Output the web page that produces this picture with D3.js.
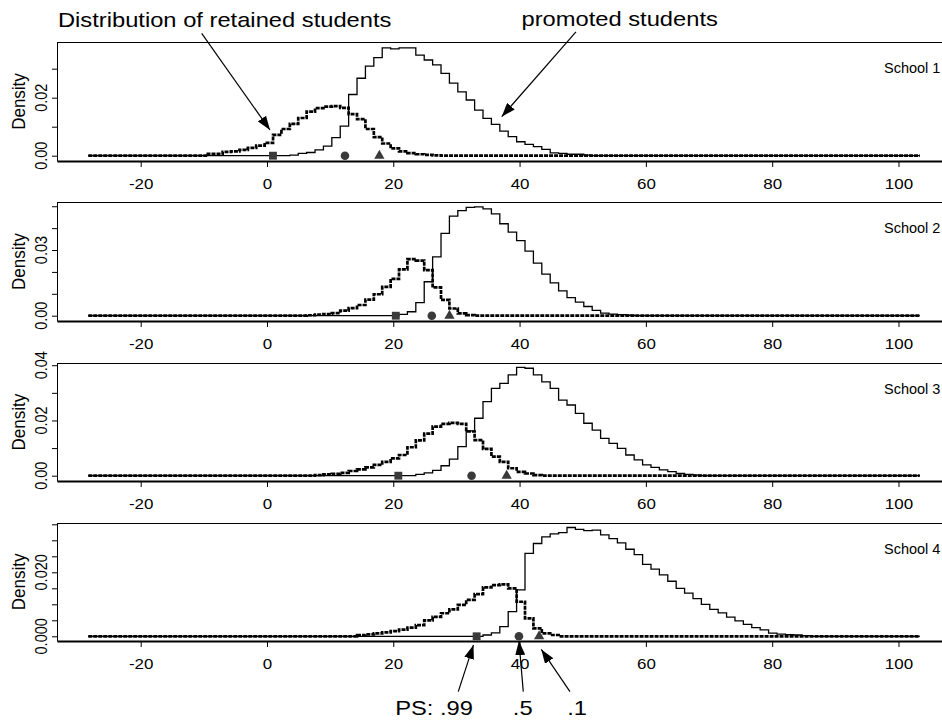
<!DOCTYPE html>
<html>
<head>
<meta charset="utf-8">
<script src="https://cdn.jsdelivr.net/npm/d3@7"></script>
<style>
  body { margin: 0; background: #fff; }
  svg { display: block; font-family: "Liberation Sans", Arial, Helvetica, sans-serif; }
</style>
</head>
<body>
<svg id="chart" width="942" height="724"></svg>
<script>
'use strict';

// score grid shared by every panel (stairstep points)
const gridStart = -28.3, gridStep = 1.33, gridCount = 100;

const schools = ['School 1', 'School 2', 'School 3', 'School 4'];
const xTicks = [-20, 0, 20, 40, 60, 80, 100];

// grid index where each non-zero run begins
const retainedFirst = [14, 26, 27, 32];
const promotedFirst = [24, 37, 39, 47];

const retained1 = [0.0006, 0.0006, 0.0013, 0.0015, 0.0020, 0.0027, 0.0035, 0.0044, 0.0072, 0.0092,
  0.0110, 0.0130, 0.0152, 0.0164, 0.0169, 0.0171, 0.0165, 0.0143, 0.0126, 0.0092,
  0.0064, 0.0042, 0.0025, 0.0015, 0.0009, 0.0005, 0.0003, 0.0001];
const promoted1 = [0.0002, 0.0008, 0.0011, 0.0020, 0.0033, 0.0062, 0.0102, 0.0211, 0.0267, 0.0309,
  0.0338, 0.0372, 0.0368, 0.0372, 0.0372, 0.0347, 0.0330, 0.0313, 0.0284, 0.0250,
  0.0220, 0.0192, 0.0157, 0.0129, 0.0108, 0.0085, 0.0066, 0.0048, 0.0039, 0.0031,
  0.0022, 0.0010, 0.0008, 0.0005, 0.0005, 0.0002];

const retained2 = [0.0002, 0.0005, 0.0007, 0.0012, 0.0023, 0.0035, 0.0049, 0.0073, 0.0098, 0.0132,
  0.0168, 0.0212, 0.0258, 0.0252, 0.0208, 0.0129, 0.0072, 0.0033, 0.0011, 0.0003];
const promoted2 = [0.0006, 0.0018, 0.0060, 0.0155, 0.0269, 0.0376, 0.0455, 0.0480, 0.0495, 0.0497,
  0.0488, 0.0465, 0.0420, 0.0382, 0.0343, 0.0295, 0.0240, 0.0190, 0.0150, 0.0113,
  0.0083, 0.0062, 0.0042, 0.0024, 0.0012, 0.0007, 0.0005, 0.0002];

const retained3 = [0.0002, 0.0005, 0.0007, 0.0010, 0.0017, 0.0023, 0.0030, 0.0039, 0.0050, 0.0063,
  0.0075, 0.0103, 0.0128, 0.0152, 0.0178, 0.0188, 0.0191, 0.0188, 0.0160, 0.0129,
  0.0097, 0.0069, 0.0050, 0.0027, 0.0014, 0.0008, 0.0002];
const promoted3 = [0.0005, 0.0010, 0.0019, 0.0036, 0.0060, 0.0105, 0.0162, 0.0208, 0.0268, 0.0316,
  0.0334, 0.0365, 0.0392, 0.0389, 0.0365, 0.0340, 0.0316, 0.0274, 0.0256, 0.0226,
  0.0190, 0.0165, 0.0135, 0.0117, 0.0099, 0.0075, 0.0057, 0.0039, 0.0030, 0.0021,
  0.0015, 0.0008, 0.0005, 0.0002];

const retained4 = [0.0004, 0.0006, 0.0009, 0.0012, 0.0016, 0.0021, 0.0027, 0.0035, 0.0050, 0.0061,
  0.0072, 0.0084, 0.0098, 0.0114, 0.0132, 0.0153, 0.0160, 0.0162, 0.0150, 0.0108,
  0.0056, 0.0025, 0.0009, 0.0004];
const promoted4 = [0.0004, 0.0011, 0.0030, 0.0077, 0.0145, 0.0259, 0.0290, 0.0311, 0.0320, 0.0324,
  0.0340, 0.0334, 0.0330, 0.0332, 0.0317, 0.0305, 0.0292, 0.0272, 0.0255, 0.0225,
  0.0210, 0.0192, 0.0172, 0.0150, 0.0135, 0.0118, 0.0100, 0.0084, 0.0073, 0.0060,
  0.0048, 0.0037, 0.0027, 0.0020, 0.0010, 0.0007, 0.0005, 0.0004, 0.0002];

const retained = [retained1, retained2, retained3, retained4];
const promoted = [promoted1, promoted2, promoted3, promoted4];

// propensity score cut points (.99, .5, .1) on the score axis
const ps99 = [0.95, 20.4, 20.8, 33.2];
const ps50 = [12.35, 26.1, 32.4, 39.9];
const ps10 = [17.8, 28.9, 37.95, 43.1];

const yTicks = [
  [0, 0.01, 0.02, 0.03],
  [0, 0.01, 0.02, 0.03, 0.04, 0.05],
  [0, 0.01, 0.02, 0.03, 0.04],
  [0, 0.005, 0.01, 0.015, 0.02, 0.025, 0.03, 0.035]
];
const yLabels = [[0, 0.02], [0, 0.03], [0, 0.02, 0.04], [0, 0.02]];
const yFormats = ['.2f', '.2f', '.2f', '.3f'];

// layout
const W = 942;
const plotLeft = 57, pxPerUnit = 6.315;
const stretch = 1.13; // horizontal text stretch seen in the original export
const panels = [
  {top: 42, bottom: 161, yMin: -0.00183, yMax: 0.0392},
  {top: 202.3, bottom: 321, yMin: -0.00242, yMax: 0.0518},
  {top: 363.3, bottom: 481, yMin: -0.00192, yMax: 0.0407},
  {top: 522.7, bottom: 641, yMin: -0.00147, yMax: 0.0355}
];

const svg = d3.select('#chart');
const x = d3.scaleLinear()
  .domain([-33.25, 110])
  .range([plotLeft, plotLeft + 143.25 * pxPerUnit]);

const defs = svg.append('defs');
defs.append('marker')
  .attr('id', 'head')
  .attr('markerUnits', 'userSpaceOnUse')
  .attr('viewBox', '0 0 14 10')
  .attr('refX', 14).attr('refY', 5)
  .attr('markerWidth', 14).attr('markerHeight', 10)
  .attr('orient', 'auto')
  .append('path')
  .attr('d', 'M0,0L14,5L0,10Z')
  .attr('fill', '#000');

function series(first, values) {
  return d3.range(gridCount).map(i => {
    let k = i - first;
    return {x: gridStart + i * gridStep, y: (k >= 0 && k < values.length) ? values[k] : 0};
  });
}

const yScales = [];

panels.forEach((p, pi) => {
  let y = d3.scaleLinear().domain([p.yMin, p.yMax]).range([p.bottom, p.top]);
  yScales.push(y);
  let g = svg.append('g');

  // top frame line
  g.append('line')
    .attr('x1', plotLeft).attr('x2', W)
    .attr('y1', Math.round(p.top) + 0.5).attr('y2', Math.round(p.top) + 0.5)
    .attr('stroke', '#000').attr('stroke-width', 1);

  // y axis: ticks only, labels drawn rotated below
  let ya = g.append('g')
    .attr('transform', `translate(${plotLeft},0)`)
    .call(d3.axisLeft(y).tickValues(yTicks[pi]).tickSize(5).tickSizeOuter(0).tickFormat(''));
  ya.select('.domain').attr('stroke', '#000').attr('stroke-width', 1);
  ya.selectAll('.tick line').attr('stroke', '#000');

  yLabels[pi].forEach(v => {
    g.append('text')
      .attr('transform', `translate(47,${y(v)}) scale(${stretch},1) rotate(-90)`)
      .attr('text-anchor', 'middle')
      .attr('font-size', 14.5)
      .text(d3.format(yFormats[pi])(v));
  });

  g.append('text')
    .attr('transform', `translate(25,${(p.top + p.bottom) / 2}) scale(${stretch},1) rotate(-90)`)
    .attr('text-anchor', 'middle')
    .attr('font-size', 17)
    .text('Density');

  // x axis
  let xa = g.append('g')
    .attr('transform', `translate(0,${p.bottom})`)
    .call(d3.axisBottom(x).tickValues(xTicks).tickSize(6).tickSizeOuter(0).tickPadding(11)
      .tickFormat(d => String(d)));
  xa.select('.domain').attr('stroke', '#000').attr('stroke-width', 2);
  xa.selectAll('.tick line').attr('stroke', '#000');
  xa.selectAll('.tick text')
    .attr('font-size', 15)
    .attr('font-family', '"Liberation Sans", Arial, sans-serif')
    .attr('fill', '#000')
    .attr('transform', `scale(${stretch},1)`);

  let line = d3.line()
    .x(d => x(d.x))
    .y(d => y(d.y))
    .curve(d3.curveStepAfter);

  g.append('path')
    .datum(series(promotedFirst[pi], promoted[pi]))
    .attr('d', line)
    .attr('fill', 'none')
    .attr('stroke', '#000')
    .attr('stroke-width', 1.3);

  g.append('path')
    .datum(series(retainedFirst[pi], retained[pi]))
    .attr('d', line)
    .attr('fill', 'none')
    .attr('stroke', '#000')
    .attr('stroke-width', 2.7)
    .attr('stroke-dasharray', '4,1');

  // cut point markers
  let marks = [
    {v: ps99[pi], type: d3.symbolSquare, size: 62},
    {v: ps50[pi], type: d3.symbolCircle, size: 58},
    {v: ps10[pi], type: d3.symbolTriangle, size: 46}
  ];
  g.selectAll('path.mark')
    .data(marks)
    .join('path')
    .attr('class', 'mark')
    .attr('transform', d => `translate(${x(d.v)},${y(0)})`)
    .attr('d', d => d3.symbol().type(d.type).size(d.size)())
    .attr('fill', '#3a3a3a');

  g.append('text')
    .attr('x', 884)
    .attr('y', p.top + 31)
    .attr('font-size', 14.5)
    .text(schools[pi]);
});

// annotations, placed in the data space of their panel
const notes = [
  {panel: 0, text: 'Distribution of retained students', tx: -33.1, ty: 0.04448, anchor: 'start'},
  {panel: 0, text: 'promoted students', tx: 40.3, ty: 0.0447, anchor: 'start'},
  {panel: 3, text: 'PS: .99', tx: 20.3, ty: -0.0246, anchor: 'start'},
  {panel: 3, text: '.5', tx: 40.5, ty: -0.0246, anchor: 'middle'},
  {panel: 3, text: '.1', tx: 49.1, ty: -0.0246, anchor: 'middle'}
];
const arrows = [
  {panel: 0, x1: -10.34, y1: 0.0422, x2: 0.48, y2: 0.00886},
  {panel: 0, x1: 48.93, y1: 0.0427, x2: 37.17, y2: 0.01345},
  {panel: 3, x1: 30.29, y1: -0.0173, x2: 32.7, y2: -0.0027},
  {panel: 3, x1: 40.59, y1: -0.0173, x2: 39.9, y2: -0.0015},
  {panel: 3, x1: 47.98, y1: -0.0173, x2: 43.44, y2: -0.0041}
];

notes.forEach(n => {
  let y = yScales[n.panel];
  svg.append('text')
    .attr('transform', `translate(${x(n.tx)},${y(n.ty)}) scale(${stretch},1)`)
    .attr('text-anchor', n.anchor)
    .attr('font-size', 21)
    .text(n.text);
});

arrows.forEach(a => {
  let y = yScales[a.panel];
  svg.append('line')
    .attr('x1', x(a.x1)).attr('y1', y(a.y1))
    .attr('x2', x(a.x2)).attr('y2', y(a.y2))
    .attr('stroke', '#000')
    .attr('stroke-width', 1.2)
    .attr('marker-end', 'url(#head)');
});
</script>
</body>
</html>
